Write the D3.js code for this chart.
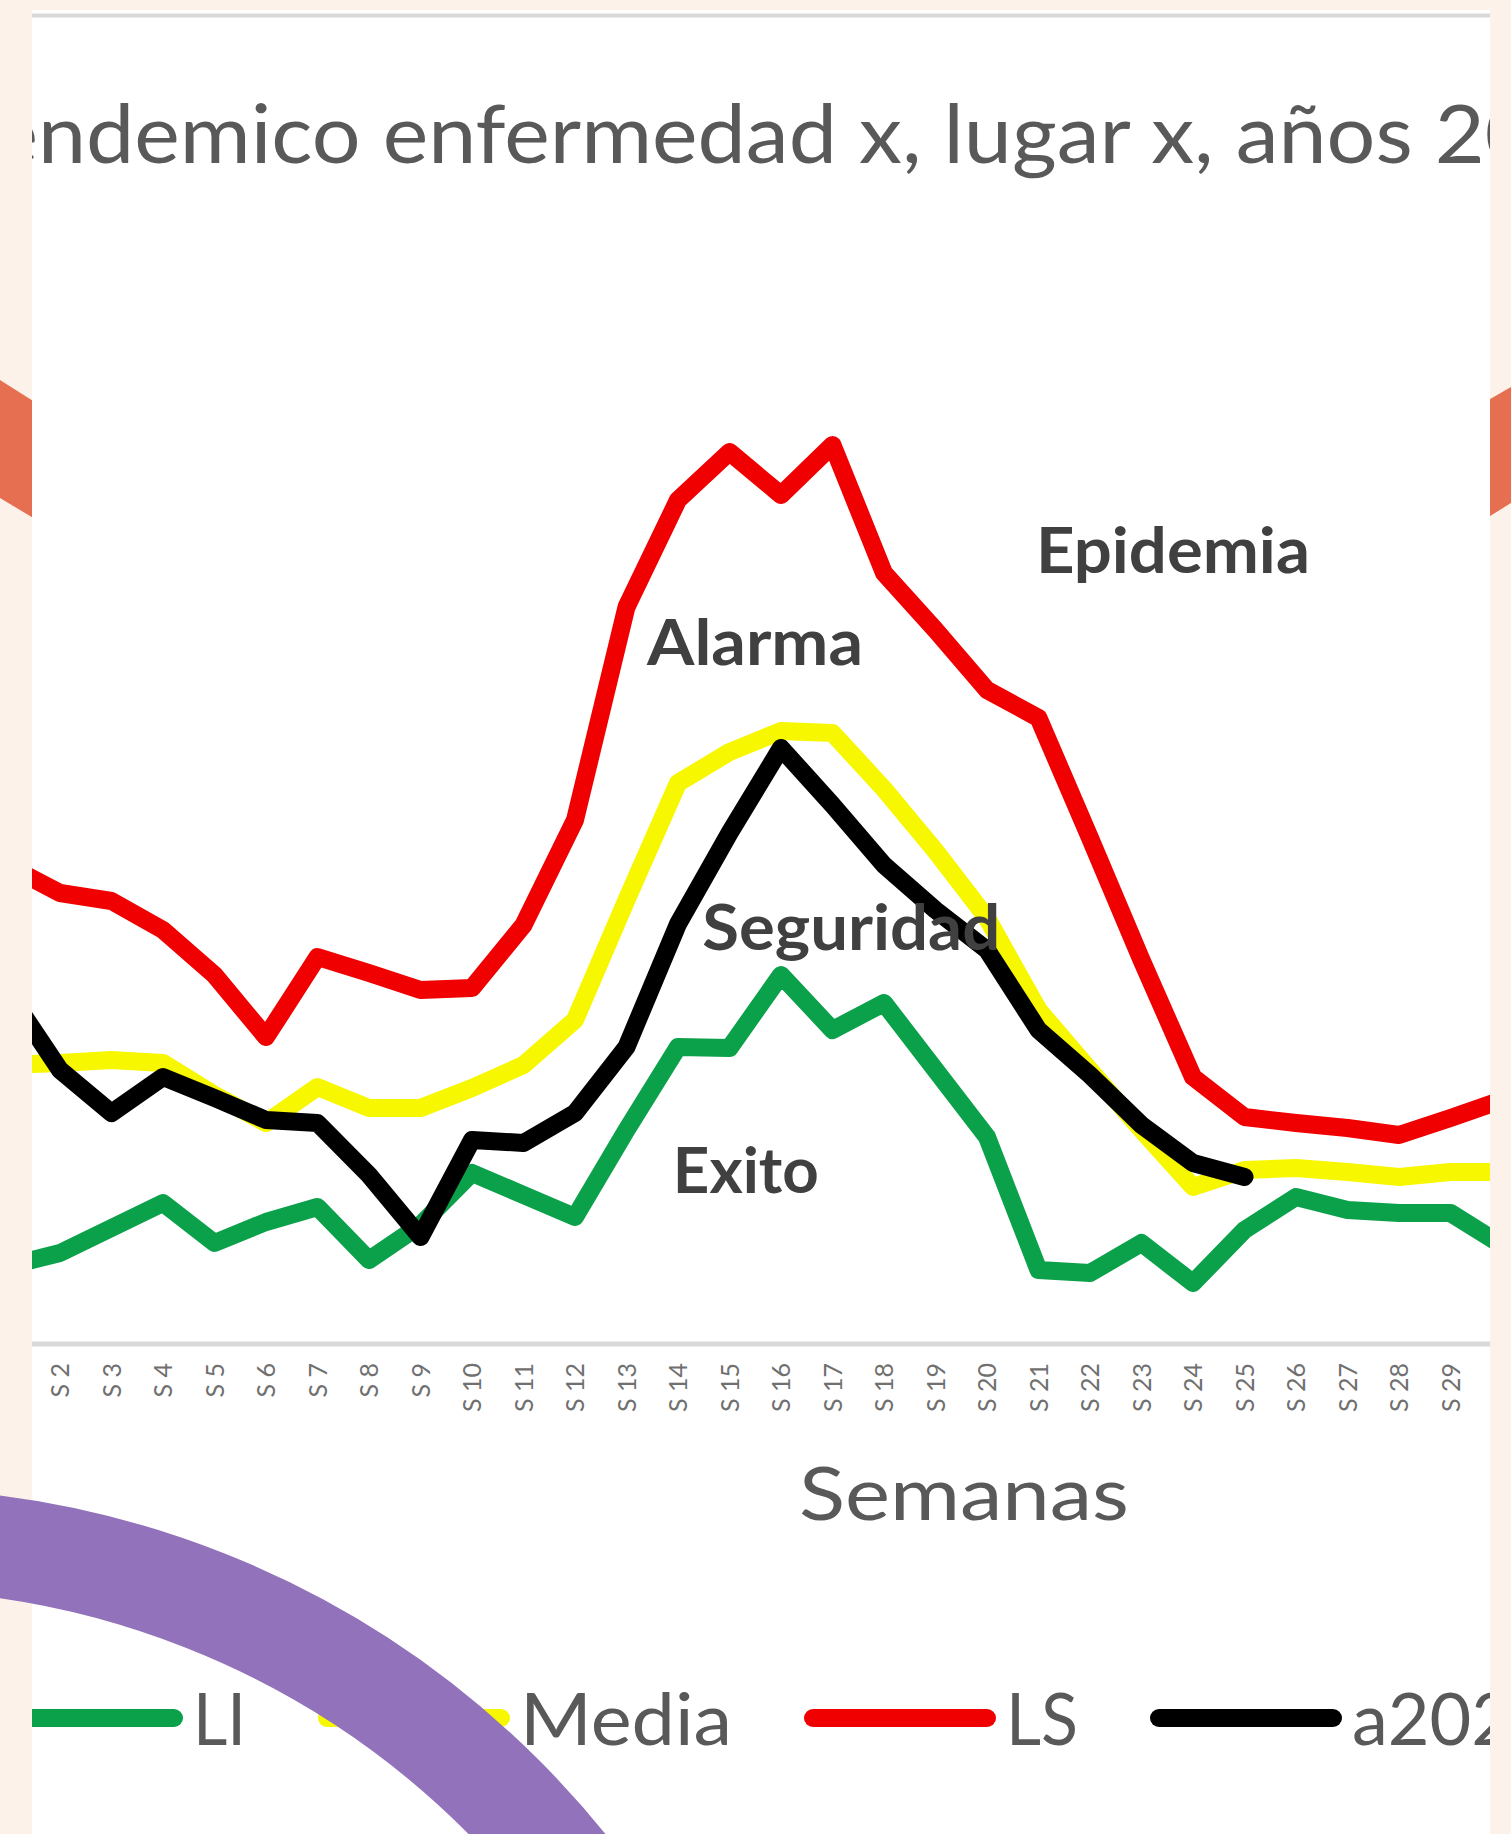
<!DOCTYPE html>
<html><head><meta charset="utf-8">
<script src="https://cdn.jsdelivr.net/npm/d3@7/dist/d3.min.js"></script>
<style>
html,body{margin:0;padding:0;background:#fdf2e9;}
svg{display:block;}
</style></head><body>
<svg id="c" width="1511" height="1834"></svg>
<script>
// ---------- data ----------
const weeks = d3.range(1, 31);
const weekLabels = weeks.map(w => "S " + w);
const seriesNames = ["LI", "Media", "LS", "a2021"];
const seriesLI    = [7.7,9.0,11.5,14.0,10.0,12.1,13.6,8.3,11.8,17.0,14.8,12.6,21.3,29.6,29.5,36.8,31.3,34.0,27.3,20.6,7.3,7.0,10.0,6.0,11.3,14.6,13.3,13.0,13.0,9.8];
const seriesMedia = [27.8,28.0,28.3,28.0,24.8,22.0,25.6,23.5,23.5,25.5,27.8,32.3,44.3,56.0,59.1,61.2,61.0,55.4,49.2,42.5,33.3,27.3,21.3,15.6,17.3,17.5,17.1,16.6,17.1,17.1];
const seriesLS    = [47.7,45.0,44.2,41.3,36.8,30.6,38.6,37.0,35.3,35.5,41.8,52.3,73.6,84.3,89.1,84.8,89.8,77.0,71.3,65.3,62.5,50.5,38.3,26.6,22.6,22.0,21.5,20.8,22.5,24.3];
const seriesA2021 = [35.0,27.3,23.0,26.6,24.5,22.3,22.0,16.8,10.6,20.3,20.0,23.0,29.6,41.9,51.0,59.5,53.8,47.8,43.3,39.3,31.3,26.8,21.8,18.0,16.6,null,null,null,null,null];
const zoneNames = ["Epidemia", "Alarma", "Seguridad", "Exito"];
const zoneWeek  = [20.95, 13.4, 14.47, 13.9];
const zoneValue = [77.0, 67.8, 39.3, 15.0];
const titleText = "Canal endemico enfermedad x, lugar x, años 2016-2020";
const xTitle = "Semanas";

// ---------- layout / style ----------
const W = 1511, H = 1834;
const colors = ["#0ba14b", "#f7f700", "#f00000", "#000000"];
const zoneWidths = [274, 216, 298, 146];
const legendWidths = [53, 212, 72, null];
const svg = d3.select("#c");

svg.append("rect").attr("width", W).attr("height", H).attr("fill", "#fdf2e9");
// orange decorative shapes behind the panel
svg.append("path").attr("d", "M0,380 L60,418 L60,534 L0,498 Z").attr("fill", "#e76f51");
svg.append("path").attr("d", "M1511,387 L1450,422 L1450,541 L1511,503 Z").attr("fill", "#e76f51");

// white panel
const P = {x: 32, y: 10, w: 1458, h: H};
svg.append("rect").attr("x", P.x).attr("y", P.y).attr("width", P.w).attr("height", P.h).attr("fill", "#ffffff");
svg.append("defs").append("clipPath").attr("id", "pclip")
  .append("rect").attr("x", P.x).attr("y", P.y).attr("width", P.w).attr("height", P.h);
const g = svg.append("g").attr("clip-path", "url(#pclip)");

g.append("line").attr("x1", P.x).attr("x2", P.x + P.w).attr("y1", 15.5).attr("y2", 15.5)
  .attr("stroke", "#d9d9d9").attr("stroke-width", 4);

// title (clipped at both sides like the reference)
const tt = g.append("text").attr("font-family", "Lato").attr("font-size", 82)
  .attr("fill", "#595959").text(titleText);
{
  const node = tt.node();
  const i0 = titleText.indexOf("ndemico");
  const i1 = titleText.indexOf("2016") + 1;
  const off = node.getSubStringLength(0, i0);
  const wsub = node.getSubStringLength(i0, i1 - i0);
  const s = 1447 / wsub;
  tt.attr("transform", `translate(${38 - s * off},163) scale(${s},1)`);
}

// scales
const x = d3.scaleLinear().domain([1, 30]).range([8.5, 1502]);
const y = d3.scaleLinear().domain([0, 100]).range([1343, 343]);

// axis line
g.append("line").attr("x1", P.x).attr("x2", P.x + P.w).attr("y1", y(0) + 1).attr("y2", y(0) + 1)
  .attr("stroke", "#d9d9d9").attr("stroke-width", 5);

// tick labels
const ax = g.append("g").attr("transform", `translate(0,${y(0)})`)
  .call(d3.axisBottom(x).tickValues(weeks).tickFormat((d, i) => weekLabels[i]).tickSize(0));
ax.select(".domain").remove();
ax.selectAll("text")
  .attr("transform", "rotate(-90)").attr("x", -20).attr("y", 0).attr("dy", "0.35em")
  .style("text-anchor", "end").attr("font-family", "Lato").attr("font-size", 25).attr("fill", "#707070");

// series lines
const allSeries = [seriesLI, seriesMedia, seriesLS, seriesA2021];
const line = d3.line().defined(d => d != null).x((d, i) => x(weeks[i])).y(d => y(d));
allSeries.forEach((s, i) => {
  g.append("path").datum(s).attr("d", line).attr("fill", "none")
    .attr("stroke", colors[i]).attr("stroke-width", 18)
    .attr("stroke-linejoin", "round").attr("stroke-linecap", "round");
});

// zone labels
zoneNames.forEach((n, i) => {
  g.append("text").attr("x", x(zoneWeek[i])).attr("y", y(zoneValue[i]))
    .attr("font-family", "Lato").attr("font-weight", 700).attr("font-size", 64)
    .attr("fill", "#404040").attr("textLength", zoneWidths[i]).attr("lengthAdjust", "spacingAndGlyphs")
    .text(n);
});

// x title
g.append("text").attr("x", 964).attr("y", 1520).attr("text-anchor", "middle")
  .attr("font-family", "Lato").attr("font-size", 73).attr("fill", "#595959")
  .attr("textLength", 330).attr("lengthAdjust", "spacingAndGlyphs").text(xTitle);

// legend
let cx = -9;
seriesNames.forEach((name, i) => {
  g.append("line").attr("x1", cx + 9).attr("x2", cx + 183).attr("y1", 1718).attr("y2", 1718)
    .attr("stroke", colors[i]).attr("stroke-width", 18).attr("stroke-linecap", "round");
  const t = g.append("text").attr("x", cx + 202).attr("y", 1745)
    .attr("font-family", "Lato").attr("font-size", 72).attr("fill", "#595959").text(name);
  if (legendWidths[i]) t.attr("textLength", legendWidths[i]).attr("lengthAdjust", "spacingAndGlyphs");
  const w = legendWidths[i] || t.node().getComputedTextLength();
  cx = cx + 202 + w + 72;
});

// purple decorative arc on top
svg.append("circle").attr("cx", -118).attr("cy", 2417).attr("r", 878)
  .attr("fill", "none").attr("stroke", "#9172bb").attr("stroke-width", 102);
</script>
</body></html>
